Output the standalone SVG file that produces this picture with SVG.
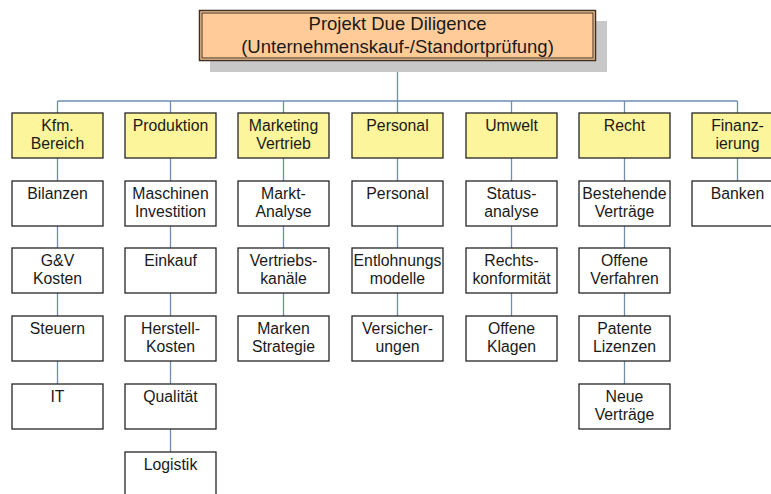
<svg xmlns="http://www.w3.org/2000/svg" width="771" height="494" viewBox="0 0 771 494">
<style>
.b{fill:#ffffff;stroke:#262626;stroke-width:1.3}
.y{fill:#fcf59b;stroke:#262626;stroke-width:1.3}
.t{font-family:"Liberation Sans",Arial,sans-serif;font-size:15.8px;fill:#1a1a1a;text-anchor:middle}
.tt{font-family:"Liberation Sans",Arial,sans-serif;font-size:18.5px;fill:#1a1a1a;text-anchor:middle}
.c{stroke:#6f8fae;stroke-width:1.3;fill:none}
</style>
<rect width="771" height="494" fill="#ffffff"/>
<g id="connectors">
<path class="c" d="M397.5 61V101M57.5 101H737.5M57.5 101V113M170.5 101V113M283.5 101V113M397.5 101V113M511.5 101V113M624.5 101V113M737.5 101V113"/>
<path class="c" d="M57.5 158V181M57.5 226V248M57.5 293V316M57.5 361V384"/>
<path class="c" d="M170.5 158V181M170.5 226V248M170.5 293V316M170.5 361V384M170.5 429V452"/>
<path class="c" d="M283.5 158V181M283.5 226V248M283.5 293V316"/>
<path class="c" d="M397.5 158V181M397.5 226V248M397.5 293V316"/>
<path class="c" d="M511.5 158V181M511.5 226V248M511.5 293V316"/>
<path class="c" d="M624.5 158V181M624.5 226V248M624.5 293V316M624.5 361V384"/>
<path class="c" d="M737.5 158V181"/>
</g>
<g id="root">
<rect x="210" y="21" width="397" height="51" fill="#c8c8c8"/>
<rect x="199.5" y="10.5" width="396" height="50" fill="#ffcc99" stroke="#3d3024" stroke-width="1.5"/>
<rect x="202" y="13" width="391" height="45" fill="none" stroke="#3d3024" stroke-width="1"/>
<text class="tt" x="397.5" y="30">Projekt Due Diligence</text>
<text class="tt" x="397.5" y="53">(Unternehmenskauf-/Standortprüfung)</text>
</g>
<g id="kfm">
<rect class="y" x="12" y="113" width="91" height="45"/>
<text class="t" x="57.5" y="130.5">Kfm.</text><text class="t" x="57.5" y="149">Bereich</text>
</g>
<g id="bilanzen"><rect class="b" x="12" y="181" width="91" height="45"/><text class="t" x="57.5" y="198.5">Bilanzen</text></g>
<g id="guv"><rect class="b" x="12" y="248" width="91" height="45"/><text class="t" x="57.5" y="265.5">G&amp;V</text><text class="t" x="57.5" y="284">Kosten</text></g>
<g id="steuern"><rect class="b" x="12" y="316" width="91" height="45"/><text class="t" x="57.5" y="333.5">Steuern</text></g>
<g id="it"><rect class="b" x="12" y="384" width="91" height="45"/><text class="t" x="57.5" y="401.5">IT</text></g>

<g id="produktion"><rect class="y" x="125" y="113" width="91" height="45"/><text class="t" x="170.5" y="130.5">Produktion</text></g>
<g id="maschinen"><rect class="b" x="125" y="181" width="91" height="45"/><text class="t" x="170.5" y="198.5">Maschinen</text><text class="t" x="170.5" y="217">Investition</text></g>
<g id="einkauf"><rect class="b" x="125" y="248" width="91" height="45"/><text class="t" x="170.5" y="265.5">Einkauf</text></g>
<g id="herstell"><rect class="b" x="125" y="316" width="91" height="45"/><text class="t" x="170.5" y="333.5">Herstell-</text><text class="t" x="170.5" y="352">Kosten</text></g>
<g id="qualitaet"><rect class="b" x="125" y="384" width="91" height="45"/><text class="t" x="170.5" y="401.5">Qualität</text></g>
<g id="logistik"><rect class="b" x="125" y="452" width="91" height="50"/><text class="t" x="170.5" y="469.5">Logistik</text></g>

<g id="marketing"><rect class="y" x="238" y="113" width="91" height="45"/><text class="t" x="283.5" y="130.5">Marketing</text><text class="t" x="283.5" y="149">Vertrieb</text></g>
<g id="markt"><rect class="b" x="238" y="181" width="91" height="45"/><text class="t" x="283.5" y="198.5">Markt-</text><text class="t" x="283.5" y="217">Analyse</text></g>
<g id="vertriebskanaele"><rect class="b" x="238" y="248" width="91" height="45"/><text class="t" x="283.5" y="265.5">Vertriebs-</text><text class="t" x="283.5" y="284">kanäle</text></g>
<g id="marken"><rect class="b" x="238" y="316" width="91" height="45"/><text class="t" x="283.5" y="333.5">Marken</text><text class="t" x="283.5" y="352">Strategie</text></g>

<g id="personal-h"><rect class="y" x="352" y="113" width="91" height="45"/><text class="t" x="397.5" y="130.5">Personal</text></g>
<g id="personal"><rect class="b" x="352" y="181" width="91" height="45"/><text class="t" x="397.5" y="198.5">Personal</text></g>
<g id="entlohnung"><rect class="b" x="352" y="248" width="91" height="45"/><text class="t" x="397.5" y="265.5">Entlohnungs</text><text class="t" x="397.5" y="284">modelle</text></g>
<g id="versicherungen"><rect class="b" x="352" y="316" width="91" height="45"/><text class="t" x="397.5" y="333.5">Versicher-</text><text class="t" x="397.5" y="352">ungen</text></g>

<g id="umwelt"><rect class="y" x="466" y="113" width="91" height="45"/><text class="t" x="511.5" y="130.5">Umwelt</text></g>
<g id="status"><rect class="b" x="466" y="181" width="91" height="45"/><text class="t" x="511.5" y="198.5">Status-</text><text class="t" x="511.5" y="217">analyse</text></g>
<g id="rechtskonf"><rect class="b" x="466" y="248" width="91" height="45"/><text class="t" x="511.5" y="265.5">Rechts-</text><text class="t" x="511.5" y="284">konformität</text></g>
<g id="klagen"><rect class="b" x="466" y="316" width="91" height="45"/><text class="t" x="511.5" y="333.5">Offene</text><text class="t" x="511.5" y="352">Klagen</text></g>

<g id="recht"><rect class="y" x="579" y="113" width="91" height="45"/><text class="t" x="624.5" y="130.5">Recht</text></g>
<g id="bestehende"><rect class="b" x="579" y="181" width="91" height="45"/><text class="t" x="624.5" y="198.5">Bestehende</text><text class="t" x="624.5" y="217">Verträge</text></g>
<g id="verfahren"><rect class="b" x="579" y="248" width="91" height="45"/><text class="t" x="624.5" y="265.5">Offene</text><text class="t" x="624.5" y="284">Verfahren</text></g>
<g id="patente"><rect class="b" x="579" y="316" width="91" height="45"/><text class="t" x="624.5" y="333.5">Patente</text><text class="t" x="624.5" y="352">Lizenzen</text></g>
<g id="neue"><rect class="b" x="579" y="384" width="91" height="45"/><text class="t" x="624.5" y="401.5">Neue</text><text class="t" x="624.5" y="420">Verträge</text></g>

<g id="finanz"><rect class="y" x="692" y="113" width="91" height="45"/><text class="t" x="737.5" y="130.5">Finanz-</text><text class="t" x="737.5" y="149">ierung</text></g>
<g id="banken"><rect class="b" x="692" y="181" width="91" height="45"/><text class="t" x="737.5" y="198.5">Banken</text></g>
</svg>
